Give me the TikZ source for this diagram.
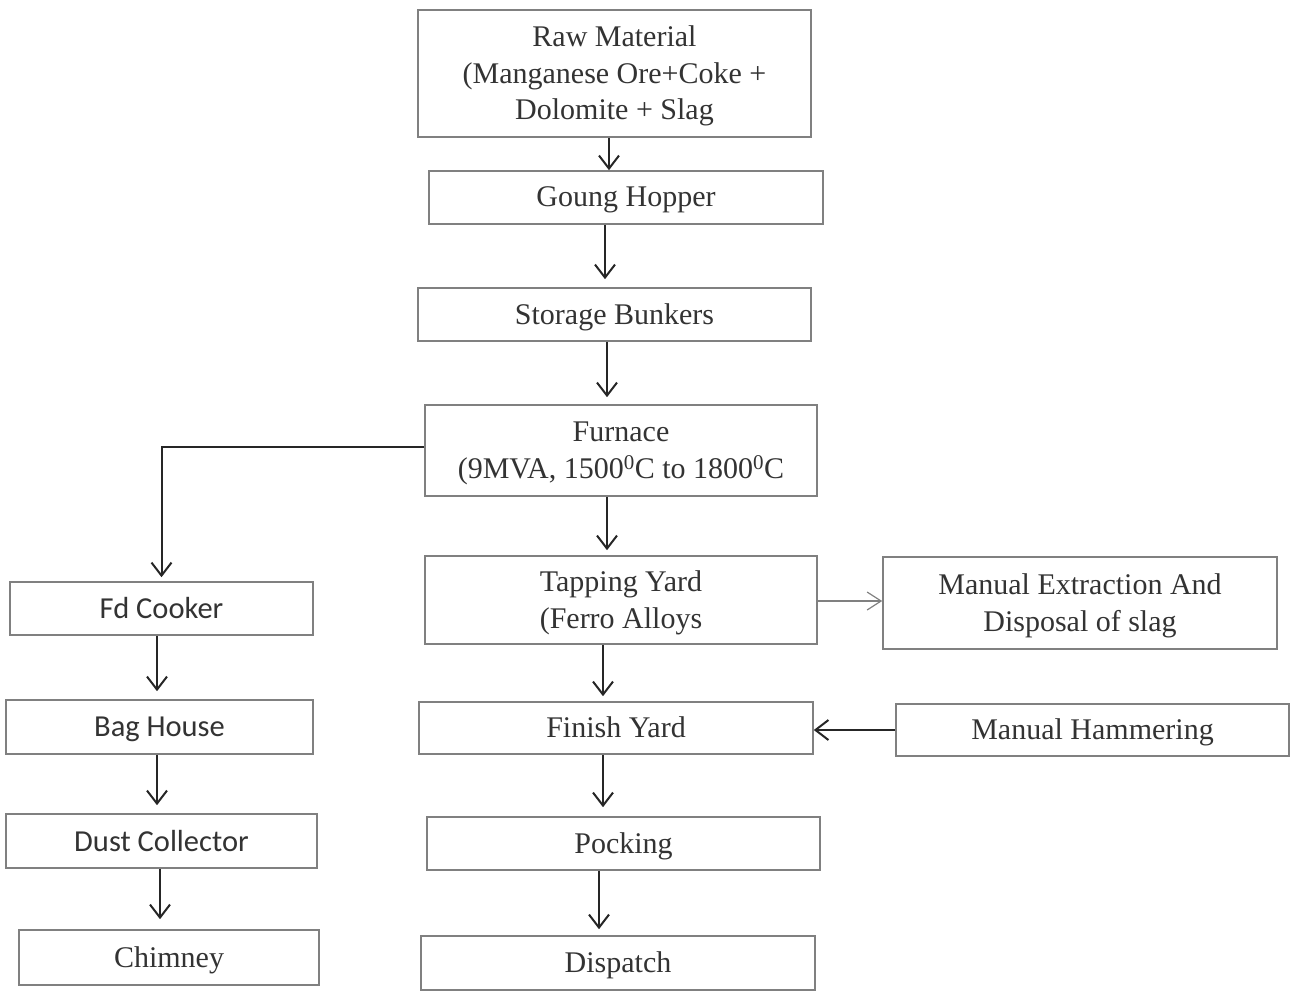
\documentclass[tikz,border=0pt]{standalone}
\usepackage{fontspec}
\setmainfont{Liberation Serif}
\newfontfamily\boxsans{Carlito}
\usetikzlibrary{arrows.meta}
\definecolor{boxline}{HTML}{808080}
\definecolor{inktext}{HTML}{333333}
\definecolor{arrowink}{HTML}{262626}
\tikzset{
  stepbox/.style={draw=boxline, line width=1.6pt, fill=white, text=inktext,
    align=center, inner sep=0pt, text depth=1pt,
    font=\fontsize{30}{36.5}\selectfont},
  sansbox/.style={stepbox, font=\boxsans\fontsize{30.5}{36}\selectfont},
  flow/.style={draw=arrowink, line width=2pt,
    -{Straight Barb[length=13pt,width=20pt,line width=2pt]}},
  sideflow/.style={draw=boxline, line width=1.2pt,
    -{Straight Barb[length=14pt,width=18pt,line width=1.2pt]}}
}
\begin{document}
\begin{tikzpicture}[x=1pt,y=-1pt]
\useasboundingbox (0,0) rectangle (1290,994);

% main process column
\node[stepbox, minimum width=393, minimum height=127] (raw) at (614.5,73.5)
  {Raw Material\\(Manganese Ore+Coke +\\Dolomite + Slag};
\node[stepbox, minimum width=394, minimum height=53] (hop) at (626,197.5) {Goung Hopper};
\node[stepbox, minimum width=393, minimum height=53] (bunk) at (614.5,314.5) {Storage Bunkers};
\node[stepbox, minimum width=392, minimum height=91] (furn) at (621,450.5)
  {Furnace\\(9MVA, 1500\textsuperscript{0}C to 1800\textsuperscript{0}C};
\node[stepbox, minimum width=392, minimum height=88] (tap) at (621,600)
  {Tapping Yard\\(Ferro Alloys};
\node[stepbox, minimum width=394, minimum height=52] (fin) at (616,728) {Finish Yard};
\node[stepbox, minimum width=393, minimum height=53] (pock) at (623.5,843.5) {Pocking};
\node[stepbox, minimum width=394, minimum height=54] (disp) at (618,963) {Dispatch};

% side operations
\node[stepbox, minimum width=394, minimum height=92] (ext) at (1080,603)
  {Manual Extraction And\\Disposal of slag};
\node[stepbox, minimum width=393, minimum height=52] (ham) at (1092.5,730) {Manual Hammering};

% gas cleaning column
\node[sansbox, minimum width=303, minimum height=53] (fd) at (161.5,608.5) {Fd Cooker};
\node[sansbox, minimum width=307, minimum height=54] (bag) at (159.5,727) {Bag House};
\node[sansbox, minimum width=311, minimum height=54] (dust) at (161.5,841) {Dust Collector};
\node[stepbox, minimum width=300, minimum height=55] (chim) at (169,957.5) {Chimney};

% main flow
\draw[flow] ([xshift=-5.5]raw.south) -- ([xshift=-17]hop.north);
\draw[flow] ([xshift=-21]hop.south) -- ([xshift=-9.5,yshift=8]bunk.north);
\draw[flow] ([xshift=-7.5]bunk.south) -- ([xshift=-14,yshift=7]furn.north);
\draw[flow] ([xshift=-14]furn.south) -- ([xshift=-14,yshift=5]tap.north);
\draw[flow] ([xshift=-18]tap.south) -- ([xshift=-13,yshift=5]fin.north);
\draw[flow] ([xshift=-13]fin.south) -- ([xshift=-20.5,yshift=9]pock.north);
\draw[flow] ([xshift=-24.5]pock.south) -- ([xshift=-19,yshift=6]disp.north);

% branch from the furnace to the gas cleaning train
\draw[flow] ([yshift=3.5]furn.west) -| ([yshift=4]fd.north);
\draw[flow] ([xshift=-4.5]fd.south) -- ([xshift=-2.5,yshift=8]bag.north);
\draw[flow] ([xshift=-2.5]bag.south) -- ([xshift=-4.5,yshift=8]dust.north);
\draw[flow] ([xshift=-1.5]dust.south) -- ([xshift=-9,yshift=10]chim.north);

% side connections
\draw[sideflow] ([yshift=-1]tap.east) -- ([yshift=2]ext.west);
\draw[flow] ([yshift=0]ham.west) -- ([yshift=-2]fin.east);
\end{tikzpicture}
\end{document}
